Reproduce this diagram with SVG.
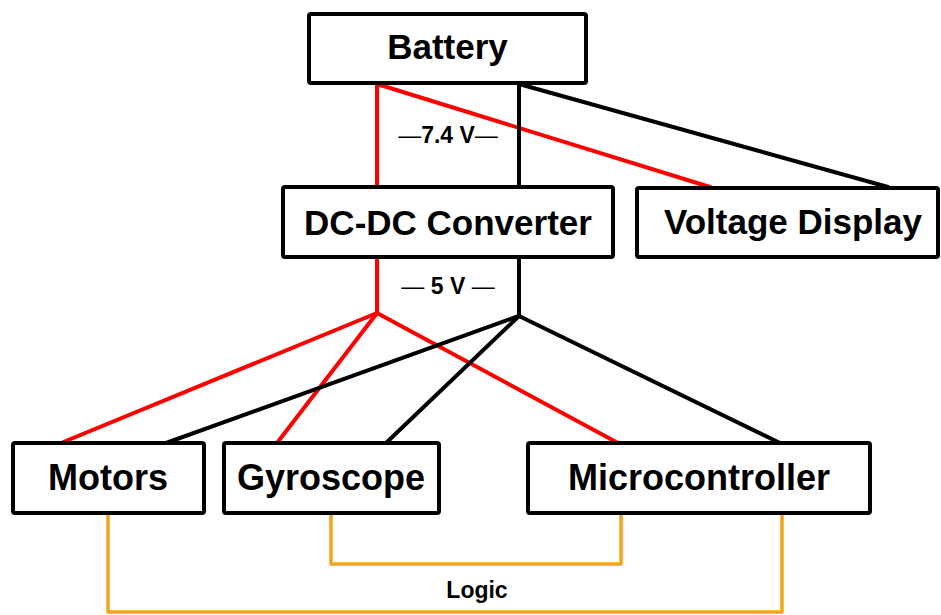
<svg xmlns="http://www.w3.org/2000/svg" width="941" height="615" viewBox="0 0 941 615">
<style>
.box{fill:#fff;stroke:#000;stroke-width:4;stroke-linejoin:round}
.lbl{font-family:"Liberation Sans",Arial,sans-serif;font-weight:bold;text-anchor:middle;fill:#000}
.big{font-size:35px}
.bot{font-size:36px}
.small{font-size:23px}
.dash{font-weight:normal}
.red{stroke:#ff0000;stroke-width:4;fill:none;stroke-linecap:round}
.blk{stroke:#000;stroke-width:4;fill:none;stroke-linecap:round}
.org{stroke:#f5a21c;stroke-width:3.5;fill:none;stroke-linejoin:round}
</style>
<rect width="941" height="615" fill="#fff"/>
<g id="connectors">
  <polyline class="red" points="377,84 377,186"/>
  <line class="red" x1="377" y1="84" x2="710" y2="187"/>
  <polyline class="blk" points="519,84 519,186"/>
  <line class="blk" x1="519" y1="84" x2="888" y2="187"/>
  <polyline class="red" points="377,258 377,313"/>
  <polyline class="blk" points="519,258 519,316"/>
  <line class="red" x1="377" y1="313" x2="61" y2="443"/>
  <line class="red" x1="377" y1="313" x2="277" y2="443"/>
  <line class="red" x1="377" y1="313" x2="618" y2="443"/>
  <line class="blk" x1="519" y1="316" x2="166" y2="443"/>
  <line class="blk" x1="519" y1="316" x2="386" y2="443"/>
  <line class="blk" x1="519" y1="316" x2="780" y2="443"/>
  <polyline class="org" points="108,514 108,612 782,612 782,514"/>
  <polyline class="org" points="331,514 331,564 621,564 621,514"/>
  <text class="lbl small" x="448" y="143"><tspan class="dash">—</tspan>7.4 V<tspan class="dash">—</tspan></text>
  <text class="lbl small" x="448" y="294"><tspan class="dash">—</tspan> 5 V <tspan class="dash">—</tspan></text>
  <text class="lbl small" x="477" y="598">Logic</text>
</g>
<g id="battery">
  <rect class="box" x="309" y="14" width="277" height="69" rx="2"/>
  <text class="lbl big" x="447.5" y="59">Battery</text>
</g>
<g id="converter">
  <rect class="box" x="283" y="187" width="330" height="70" rx="2"/>
  <text class="lbl big" x="448" y="235">DC-DC Converter</text>
</g>
<g id="display">
  <rect class="box" x="637" y="188" width="301" height="69" rx="2"/>
  <text class="lbl big" x="793" y="234">Voltage Display</text>
</g>
<g id="motors">
  <rect class="box" x="13" y="443" width="191" height="70" rx="2"/>
  <text class="lbl bot" x="108" y="490">Motors</text>
</g>
<g id="gyroscope">
  <rect class="box" x="224" y="443" width="215" height="70" rx="2"/>
  <text class="lbl bot" x="331" y="490">Gyroscope</text>
</g>
<g id="microcontroller">
  <rect class="box" x="528" y="443" width="342" height="70" rx="2"/>
  <text class="lbl bot" x="699" y="490">Microcontroller</text>
</g>
</svg>
